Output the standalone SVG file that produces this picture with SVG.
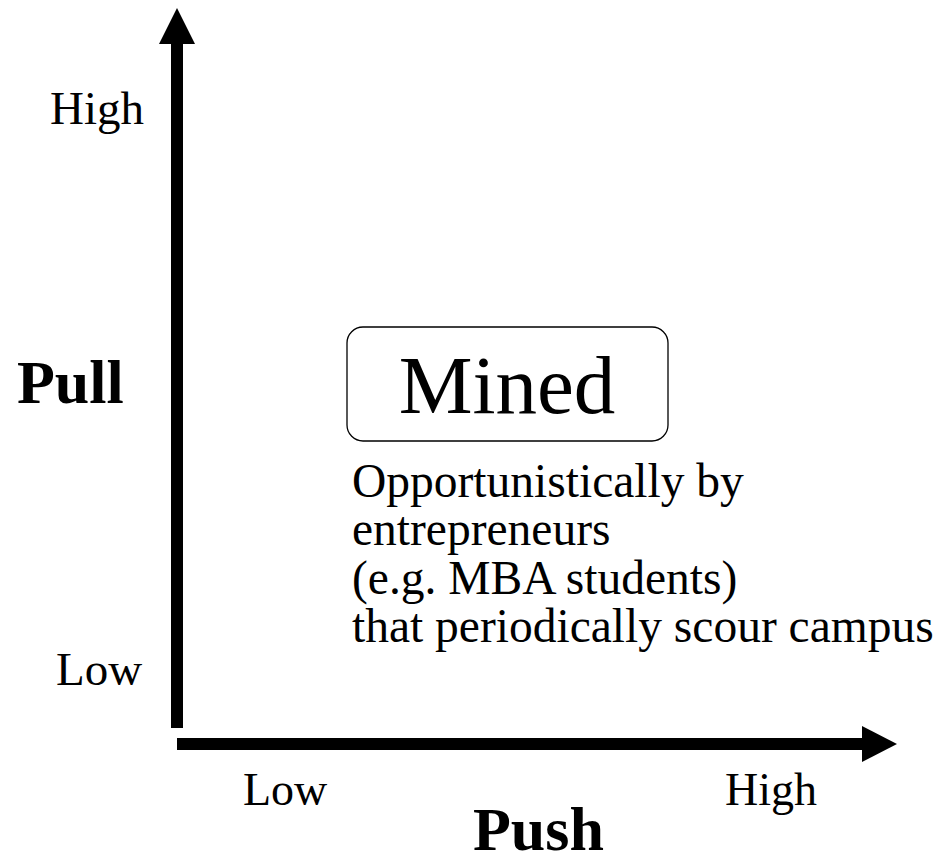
<svg xmlns="http://www.w3.org/2000/svg" width="941" height="863" viewBox="0 0 941 863">
<style>
.t{font-family:"Liberation Serif","Times New Roman",serif;fill:#000}
.b{font-weight:bold}
</style>
<rect width="941" height="863" fill="#fff"/>
<g id="connectors">
  <g id="axis-y">
    <rect x="171" y="43" width="12" height="685" fill="#000"/>
    <polygon points="177,8 195,44 159,44" fill="#000"/>
  </g>
  <g id="axis-x">
    <rect x="177" y="738" width="686" height="12" fill="#000"/>
    <polygon points="897,744 862,726 862,762" fill="#000"/>
  </g>
</g>
<g id="labels">
  <text class="t" x="50" y="124" font-size="47">High</text>
  <text class="t" x="56" y="685" font-size="47">Low</text>
  <text class="t b" x="17" y="403" font-size="62">Pull</text>
  <text class="t" x="243" y="805" font-size="46">Low</text>
  <text class="t" x="725" y="805" font-size="46">High</text>
  <text class="t b" x="473" y="850" font-size="62">Push</text>
</g>
<g id="node-mined">
  <rect x="347" y="327" width="321" height="114" rx="16" ry="16" fill="#fff" stroke="#000" stroke-width="1.3"/>
  <text class="t" x="507" y="413" font-size="83" text-anchor="middle">Mined</text>
</g>
<g id="node-description">
  <text class="t" font-size="47.5">
    <tspan x="352" y="497">Opportunistically by</tspan>
    <tspan x="352" y="545">entrepreneurs</tspan>
    <tspan x="352" y="594">(e.g. MBA students)</tspan>
    <tspan x="352" y="642">that periodically scour campus</tspan>
  </text>
</g>
</svg>
